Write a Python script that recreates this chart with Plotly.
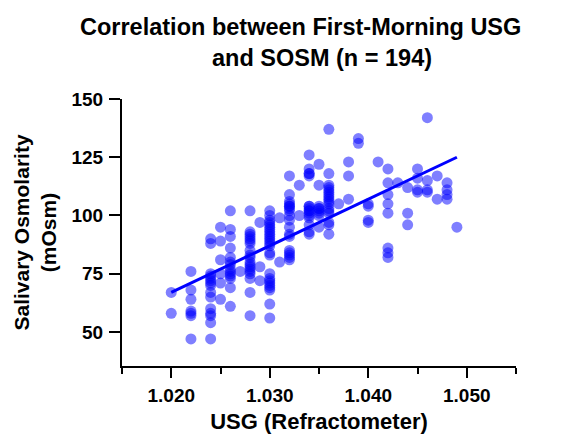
import plotly.graph_objects as go

# ---- data ----
usg = (
    [1.020] * 2 + [1.022] * 7 + [1.024] * 15 + [1.025] * 6 + [1.026] * 14 + [1.027] * 1
    + [1.028] * 19 + [1.029] * 3 + [1.030] * 25 + [1.031] * 2 + [1.032] * 18 + [1.033] * 2
    + [1.034] * 16 + [1.035] * 9 + [1.036] * 17 + [1.037] * 1 + [1.038] * 3 + [1.039] * 2
    + [1.040] * 4 + [1.041] * 1 + [1.042] * 8 + [1.043] * 1 + [1.044] * 3 + [1.045] * 4
    + [1.046] * 4 + [1.047] * 2 + [1.048] * 4 + [1.049] * 1
)
sosm = (
    [67, 58]
    + [76, 68, 64, 58, 57, 47, 59]
    + [90, 88, 75, 74, 72, 70, 67, 65, 60, 57, 54, 47, 73, 71, 58]
    + [95, 89, 81, 75, 71, 64]
    + [102, 94, 91, 86, 82, 79, 76, 74, 73, 69, 61, 77, 75, 80]
    + [76]
    + [102, 93, 92, 90, 89, 85, 82, 80, 79, 77, 76, 73, 67, 57, 91, 88, 83, 78, 75]
    + [97, 78, 72]
    + [102, 98, 96, 95, 93, 92, 90, 89, 87, 84, 83, 75, 73, 72, 70, 68, 62, 56,
       97, 94, 91, 88, 71, 69, 100]
    + [99, 80]
    + [117, 109, 106, 105, 104, 102, 100, 95, 92, 91, 85, 83, 81, 104, 103, 98, 84, 82]
    + [113, 100]
    + [126, 120, 118, 117, 104, 103, 102, 101, 99, 96, 93, 92, 118, 104, 102, 100]
    + [122, 113, 104, 103, 102, 101, 95, 103, 100]
    + [137, 118, 113, 111, 109, 107, 106, 102, 101, 97, 96, 92, 112, 110, 108, 105, 103]
    + [105]
    + [123, 117, 107]
    + [133, 131]
    + [105, 104, 98, 97]
    + [123]
    + [120, 114, 109, 105, 101, 86, 84, 82]
    + [114]
    + [112, 101, 96]
    + [120, 116, 111, 110]
    + [142, 115, 111, 110]
    + [117, 107]
    + [114, 111, 109, 107]
    + [95]
)
fit_usg = [1.020, 1.049]
fit_sosm = [67, 125]

x_ticks = [1.020, 1.030, 1.040, 1.050]
x_tick_labels = ["1.020", "1.030", "1.040", "1.050"]
x_minor_ticks = [1.015, 1.025, 1.035, 1.045, 1.055]
y_ticks = [50, 75, 100, 125, 150]

title_line1 = "Correlation between First-Morning USG"
title_line2 = "and SOSM (n = 194)"
x_title = "USG (Refractometer)"
y_title = "Salivary Osmolarity<br>(mOsm)"

FONT = "Arial, Liberation Sans, sans-serif"

fig = go.Figure()
fig.add_trace(go.Scatter(
    x=usg, y=sosm, mode="markers",
    marker=dict(size=11, color="#0000FF", opacity=0.5, line=dict(width=0)),
    showlegend=False, hoverinfo="skip",
))
fig.add_trace(go.Scatter(
    x=fit_usg, y=fit_sosm, mode="lines",
    line=dict(color="#0000FF", width=3),
    showlegend=False, hoverinfo="skip",
))

# the page body adds an 8px offset at the top-left, so the figure is 8px smaller
fig.update_layout(
    width=556, height=426,
    margin=dict(l=114, r=48, t=91, b=68),
    plot_bgcolor="white", paper_bgcolor="white",
    font=dict(family=FONT, color="#000000"),
    annotations=[
        dict(text=title_line1, xref="paper", yref="paper", x=0.454, y=1.27,
             xanchor="center", yanchor="middle", showarrow=False,
             font=dict(size=23.5, family=FONT, weight="bold", color="#000000")),
        dict(text=title_line2, xref="paper", yref="paper", x=0.508, y=1.155,
             xanchor="center", yanchor="middle", showarrow=False,
             font=dict(size=23.5, family=FONT, weight="bold", color="#000000")),
    ],
)
fig.update_xaxes(
    range=[1.015, 1.055], showgrid=False, zeroline=False, automargin=False,
    showline=True, linecolor="black", linewidth=2,
    tickmode="array", tickvals=x_ticks, ticktext=x_tick_labels,
    ticks="outside", ticklen=10, tickwidth=2, tickcolor="black",
    ticklabelstandoff=1,
    tickfont=dict(size=19, family=FONT, weight="bold", color="#000000"),
    minor=dict(tickmode="array", tickvals=x_minor_ticks, ticks="outside",
               ticklen=6, tickwidth=2, tickcolor="black", showgrid=False),
    title=dict(text=x_title, standoff=26,
               font=dict(size=22, family=FONT, weight="bold", color="#000000")),
)
fig.update_yaxes(
    range=[35.4, 150], showgrid=False, zeroline=False, automargin=False,
    showline=True, linecolor="black", linewidth=2,
    tickmode="array", tickvals=y_ticks,
    ticks="outside", ticklen=11, tickwidth=2, tickcolor="black",
    ticklabelstandoff=2,
    tickfont=dict(size=19, family=FONT, weight="bold", color="#000000"),
    title=dict(text=y_title, standoff=9,
               font=dict(size=21, family=FONT, weight="bold", color="#000000")),
)

fig.write_html("out.html")
